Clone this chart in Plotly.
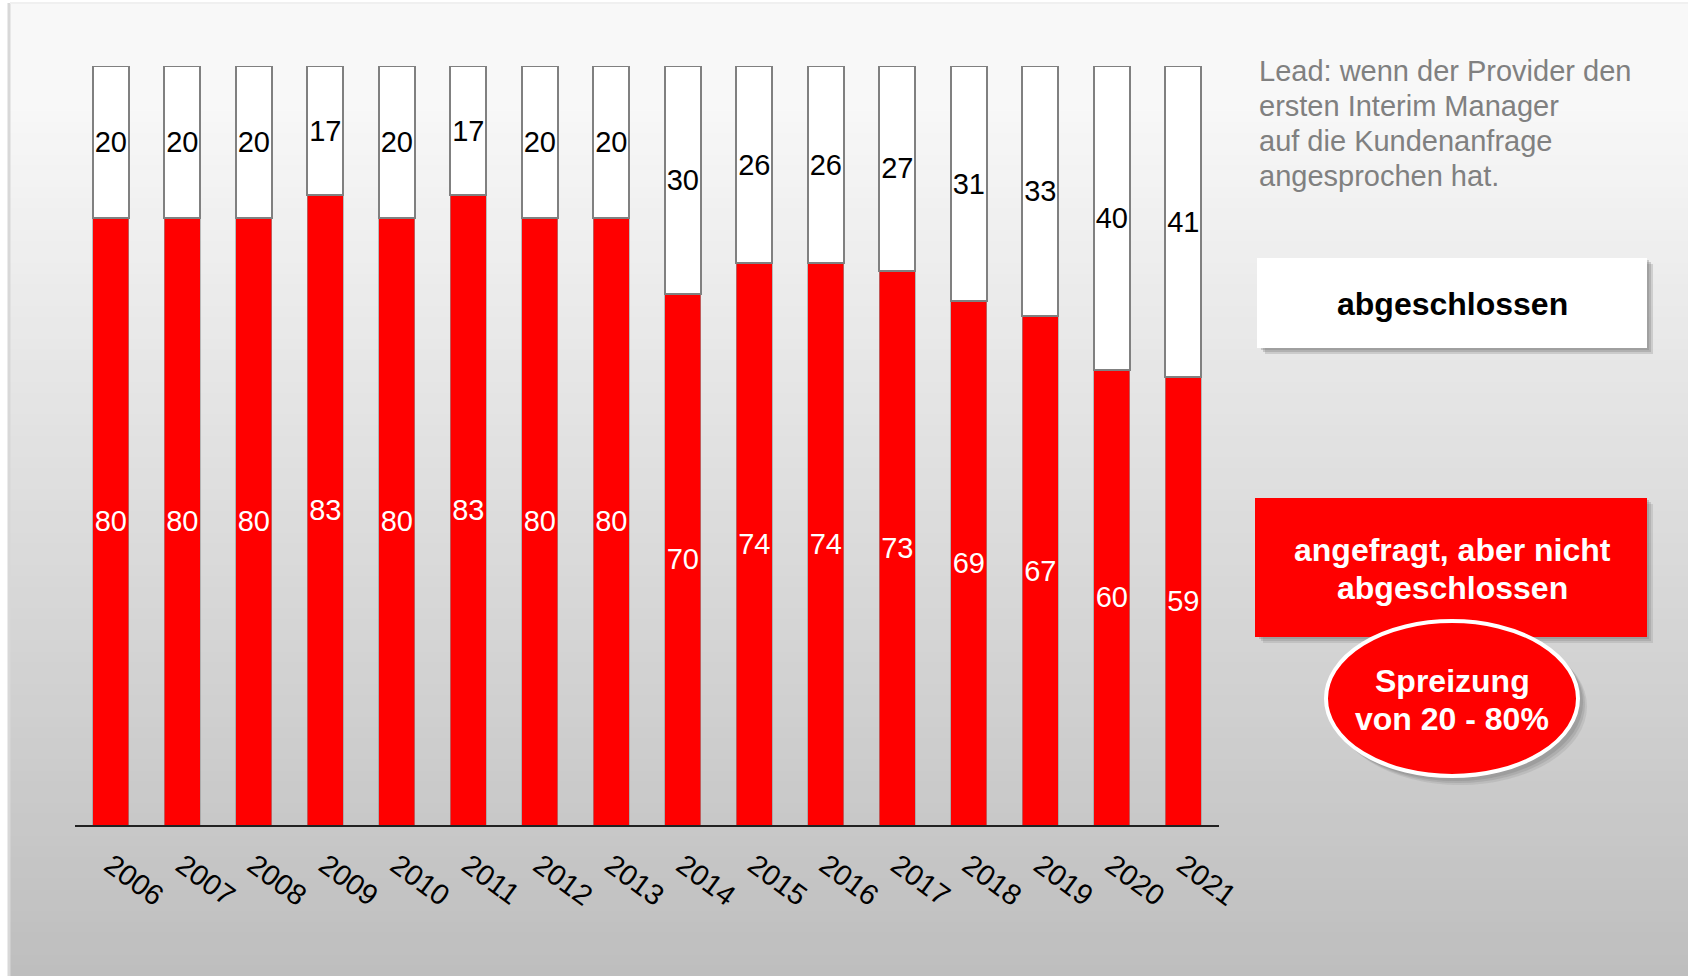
import plotly.graph_objects as go

years = ["2006", "2007", "2008", "2009", "2010", "2011", "2012", "2013",
         "2014", "2015", "2016", "2017", "2018", "2019", "2020", "2021"]
angefragt = [80, 80, 80, 83, 80, 83, 80, 80, 70, 74, 74, 73, 69, 67, 60, 59]
abgeschlossen = [20, 20, 20, 17, 20, 17, 20, 20, 30, 26, 26, 27, 31, 33, 40, 41]

note_lines = ["Lead: wenn der Provider den", "ersten Interim Manager",
              "auf die Kundenanfrage", "angesprochen hat."]
box1_lines = ["abgeschlossen"]
box2_lines = ["angefragt, aber nicht", "abgeschlossen"]
ellipse_lines = ["Spreizung", "von 20 - 80%"]

W, H = 1688, 976
L, R, T, B = 75, 1219, 66, 825  # plot area in pixels
FONT = "Liberation Sans, Arial, sans-serif"


def px(x):
    return (x - L) / (R - L)


def py(y):
    return (B - y) / (B - T)


fig = go.Figure()
fig.add_trace(go.Bar(
    x=years, y=angefragt, name="angefragt, aber nicht abgeschlossen",
    marker=dict(color="#ff0000", line=dict(color="rgba(150,150,150,0.6)", width=1)),
    width=0.51, texttemplate="%{y}", textposition="inside", insidetextanchor="middle",
    textangle=0, constraintext="none",
    textfont=dict(color="white", size=29, family=FONT),
))
fig.add_trace(go.Bar(
    x=years, y=abgeschlossen, name="abgeschlossen",
    marker=dict(color="white", line=dict(color="#808080", width=2)),
    width=0.51, texttemplate="%{y}", textposition="inside", insidetextanchor="middle",
    textangle=0, constraintext="none",
    textfont=dict(color="black", size=29, family=FONT),
))

shapes = []
# background gradient
top_c, bot_c = 248, 190
n = 90
y0 = 3
for i in range(n):
    ya = y0 + (H - y0) * i / n
    yb = y0 + (H - y0) * (i + 1) / n + 1
    mid = (ya + yb) / 2
    f = max(0.0, (mid - 100) / (H - 100))
    c = int(round(top_c - (top_c - bot_c) * f))
    shapes.append(dict(type="rect", xref="paper", yref="paper", layer="below",
                       x0=px(10), x1=px(W + 5), y0=py(ya), y1=py(yb),
                       fillcolor=f"rgb({c},{c},{c})", line=dict(width=0)))
# left shadow edge
shapes.append(dict(type="line", xref="paper", yref="paper", layer="below",
                   x0=px(9), x1=px(9), y0=py(3), y1=py(H), line=dict(color="#d8d8d8", width=3)))
shapes.append(dict(type="line", xref="paper", yref="paper", layer="below",
                   x0=px(10), x1=px(W), y0=py(3), y1=py(3), line=dict(color="#f0f0f0", width=2)))

# white box with shadow
for off, op in [(6, 0.25), (4, 0.3), (2, 0.3)]:
    shapes.append(dict(type="rect", xref="paper", yref="paper", layer="above",
                       x0=px(1259 + off), x1=px(1647 + off), y0=py(258 + off), y1=py(348 + off),
                       fillcolor=f"rgba(120,120,120,{op})", line=dict(width=0)))
shapes.append(dict(type="rect", xref="paper", yref="paper", layer="above",
                   x0=px(1257), x1=px(1647), y0=py(258), y1=py(348),
                   fillcolor="white", line=dict(width=0)))
# red box with shadow
for off, op in [(6, 0.2), (4, 0.25), (2, 0.3)]:
    shapes.append(dict(type="rect", xref="paper", yref="paper", layer="above",
                       x0=px(1257 + off), x1=px(1647 + off), y0=py(498 + off), y1=py(637 + off),
                       fillcolor=f"rgba(120,120,120,{op})", line=dict(width=0)))
shapes.append(dict(type="rect", xref="paper", yref="paper", layer="above",
                   x0=px(1255), x1=px(1647), y0=py(498), y1=py(637),
                   fillcolor="#ff0000", line=dict(width=0)))
# ellipse with glow/shadow
for off, op in [(7, 0.15), (5, 0.2), (3, 0.25)]:
    shapes.append(dict(type="circle", xref="paper", yref="paper", layer="above",
                       x0=px(1326 + off), x1=px(1580 + off), y0=py(621 + off), y1=py(778 + off),
                       fillcolor=f"rgba(110,110,110,{op})", line=dict(width=0)))
shapes.append(dict(type="circle", xref="paper", yref="paper", layer="above",
                   x0=px(1326), x1=px(1578), y0=py(621), y1=py(776),
                   fillcolor="#ff0000", line=dict(color="white", width=4)))

annotations = []
for i, line in enumerate(note_lines):
    annotations.append(dict(text=line, xref="paper", yref="paper", x=px(1257), y=py(71 + 35 * i),
                            xanchor="left", yanchor="middle", align="left", showarrow=False,
                            font=dict(family=FONT, size=29, color="#808080")))
for line, yc, col in [(box1_lines[0], 304, "black")]:
    annotations.append(dict(text=f"<b>{line}</b>", xref="paper", yref="paper", x=px(1452), y=py(yc),
                            xanchor="center", yanchor="middle", showarrow=False,
                            font=dict(family=FONT, size=32, color=col)))
for i, line in enumerate(box2_lines):
    annotations.append(dict(text=f"<b>{line}</b>", xref="paper", yref="paper", x=px(1452), y=py(550 + 38 * i),
                            xanchor="center", yanchor="middle", showarrow=False,
                            font=dict(family=FONT, size=32, color="white")))
for i, line in enumerate(ellipse_lines):
    annotations.append(dict(text=f"<b>{line}</b>", xref="paper", yref="paper", x=px(1452), y=py(681 + 38 * i),
                            xanchor="center", yanchor="middle", showarrow=False,
                            font=dict(family=FONT, size=32, color="white")))

fig.update_layout(
    width=W, height=H, autosize=False,
    margin=dict(l=L, r=W - R, t=T, b=H - B, pad=0),
    paper_bgcolor="white", plot_bgcolor="rgba(0,0,0,0)",
    barmode="stack", showlegend=False,
    shapes=shapes, annotations=annotations,
    xaxis=dict(type="category", range=[-0.5, 15.5], showgrid=False, zeroline=False,
               showline=True, linecolor="#222222", linewidth=2, ticks="",
               tickangle=36, ticklabelstandoff=10,
               tickfont=dict(family=FONT, size=29, color="black")),
    yaxis=dict(range=[0, 100], visible=False, showgrid=False, zeroline=False),
)

fig.write_html("out.html", config={"displayModeBar": False},
               post_script="document.body.style.margin='0';document.body.style.overflow='hidden';")
